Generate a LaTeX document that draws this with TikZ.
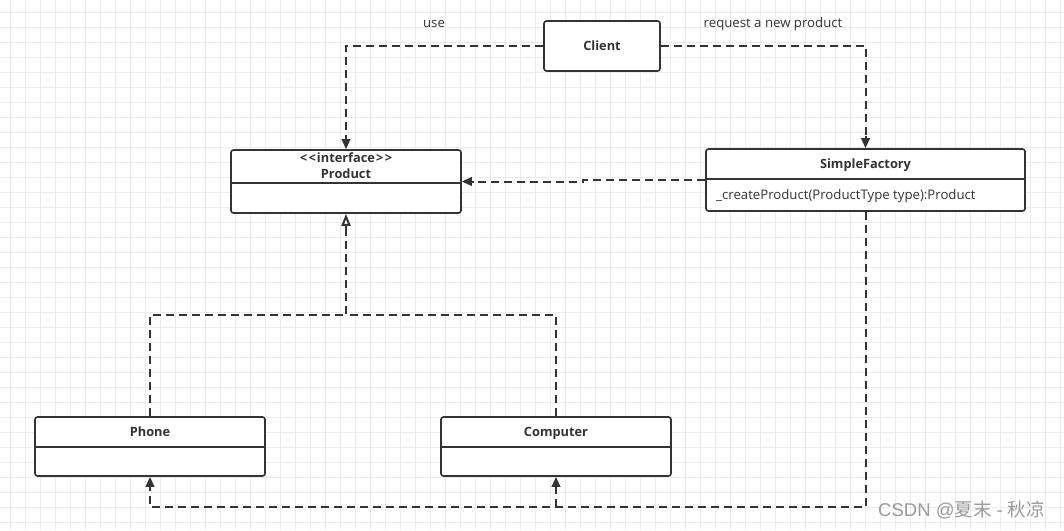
\documentclass[tikz,border=0pt]{standalone}
\usepackage{fontspec}
\setmainfont{Open Sans}
\newfontfamily\wmfont{Liberation Sans}
\newfontfamily\cjk{Noto Sans CJK SC}
\usetikzlibrary{arrows.meta}
\definecolor{linec}{HTML}{333333}
\definecolor{textc}{HTML}{333333}
\definecolor{gridc}{HTML}{EBEBEB}
\definecolor{wmc}{HTML}{9A9A9A}
\tikzset{
  cls/.style={draw=linec, line width=1.6pt, rounded corners=2.5pt, fill=white, inner sep=0pt},
  ttl/.style={font=\bfseries\fontsize{12.8}{14}\selectfont, text=textc, inner sep=0pt, text height=9.2pt, text depth=0pt},
  txt/.style={font=\fontsize{13.2}{15}\selectfont, text=textc, inner sep=0pt, text height=9.4pt, text depth=0pt},
  conn/.style={draw=linec, line width=2pt, dash pattern=on 8pt off 5pt},
  tipline/.style={draw=linec, line width=2pt, solid},
  arr/.style={-{Triangle[length=10pt,width=8.5pt]}},
  real/.style={-{Triangle[open,length=12pt,width=9pt,fill=white]}},
}
\begin{document}
\begin{tikzpicture}[x=1pt,y=-1pt]
\useasboundingbox (0,0) rectangle (1064,530);
\fill[white] (0,0) rectangle (1064,530);
% grid
\foreach \gx in {10,25,...,1060} {\draw[gridc, line width=0.8pt] (\gx,0) -- (\gx,530);}
\foreach \gy in {12,27,...,527} {\draw[gridc, line width=0.8pt] (0,\gy) -- (1064,\gy);}

% nodes
\node[cls, minimum width=116pt, minimum height=50pt] (client) at (602,46) {};
\node[ttl] (clientt) at (602,46) {Client};

\node[cls, minimum width=230pt, minimum height=63pt] (product) at (346,181.5) {};
\draw[linec, line width=1.6pt] (product.west |- 0,183) -- (product.east |- 0,183);
\node[ttl] (prodst) at (346,158) {<\kern1.5pt<\kern1pt interface\kern1pt>\kern1.5pt>};
\node[ttl] (prodt) at (346,174) {Product};

\node[cls, minimum width=319pt, minimum height=62pt] (factory) at (865.5,180) {};
\draw[linec, line width=1.6pt] (factory.west |- 0,179) -- (factory.east |- 0,179);
\node[ttl] (factt) at (865.5,164) {SimpleFactory};
\node[txt, anchor=west] (factm) at (716,195) {\_createProduct(ProductType type):Product};

\node[cls, minimum width=230pt, minimum height=59pt] (phone) at (150,446.5) {};
\draw[linec, line width=1.6pt] (phone.west |- 0,447) -- (phone.east |- 0,447);
\node[ttl] (phonet) at (150,432) {Phone};

\node[cls, minimum width=230pt, minimum height=59pt] (computer) at (556,446.5) {};
\draw[linec, line width=1.6pt] (computer.west |- 0,447) -- (computer.east |- 0,447);
\node[ttl] (compt) at (556,432) {Computer};

% labels
\node[txt] (uselbl) at (434,23) {use};
\node[txt] (reqlbl) at (773,23) {request a new product};

% connectors (dashed bodies)
\draw[conn] (client.west) -| ([yshift=10pt]product.north);
\draw[conn] (client.east) -| ([yshift=10pt]factory.north);
\draw[conn] (factory.west) -- ++(-122,0) |- ([xshift=10pt]product.east);
\coordinate (jn) at (346,315);
\draw[conn] (phone.north) |- (jn);
\draw[conn] (computer.north) |- (jn) -- ([yshift=-12pt]product.south);
\coordinate (b1) at (150,507);
\coordinate (b2) at (556,507);
\draw[conn] (factory.south) |- (b1) -- ([yshift=-10pt]phone.south);
\draw[conn] (b2) -- ([yshift=-10pt]computer.south);

% arrow tips
\draw[tipline, arr] ([yshift=12pt]product.north) -- (product.north);
\draw[tipline, arr] ([yshift=12pt]factory.north) -- (factory.north);
\draw[tipline, arr] ([xshift=12pt]product.east) -- (product.east);
\draw[tipline, real] ([yshift=-14pt]product.south) -- (product.south);
\draw[tipline, arr] ([yshift=-12pt]phone.south) -- (phone.south);
\draw[tipline, arr] ([yshift=-12pt]computer.south) -- (computer.south);

% watermark
\node[text=wmc, font=\wmfont\fontsize{18.5}{20}\selectfont, anchor=west, inner sep=0pt] (wm) at (878,510) {CSDN @{\cjk 夏末} - {\cjk 秋凉}};
\end{tikzpicture}
\end{document}
